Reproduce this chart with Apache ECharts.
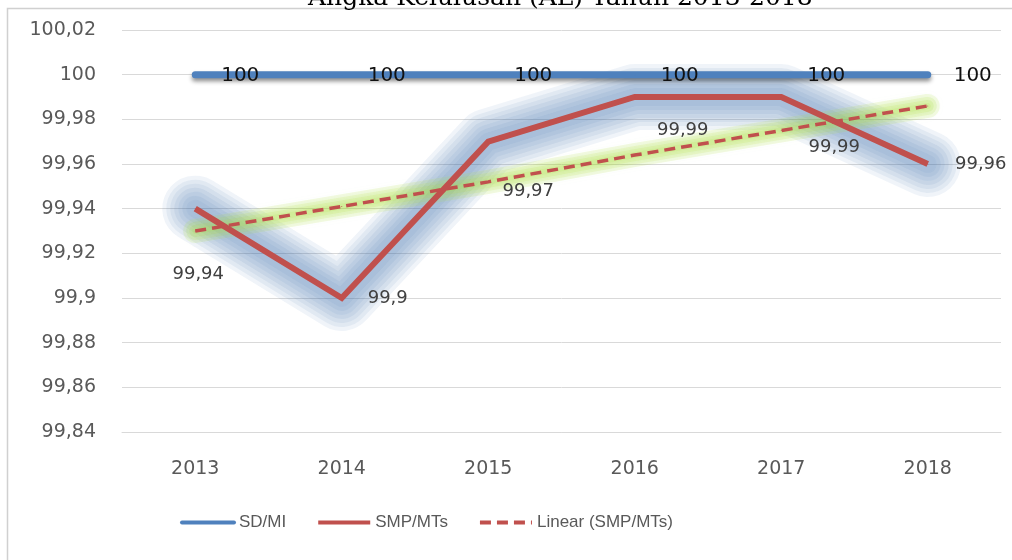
<!DOCTYPE html>
<html>
<head>
<meta charset="utf-8">
<script src="https://cdn.jsdelivr.net/npm/echarts@6/dist/echarts.min.js"></script>
<style>
  html, body { margin: 0; padding: 0; background: #fff; }
  #chart { width: 1012px; height: 560px; }
</style>
</head>
<body>
<div id="chart"></div>
<script>
const years = ['2013', '2014', '2015', '2016', '2017', '2018']
const sdMi = [100, 100, 100, 100, 100, 100]
const smpMts = [99.94, 99.9, 99.97, 99.99, 99.99, 99.96]
// trendline (straight dashed line)
const linearSmp = [99.93, 99.941, 99.952, 99.964, 99.975, 99.986]

// label placement for SMP/MTs values, as in the reference
const smpLabelOffsets = [[3, 66], [46, 0], [40, 50], [48, 33], [53, 50], [53, 0]]

const fmt = v => parseFloat(Number(v).toFixed(2)).toString().replace('.', ',')
const font = 'DejaVu Sans'

// soft glow bands drawn under a line (widest first)
const glow = (data, widths, rgb, alpha, z) => widths.map(w => ({
  name: 'glow',
  type: 'line',
  data: data,
  symbol: 'none',
  silent: true,
  z: z,
  lineStyle: {
    width: w, color: `rgba(${rgb},${alpha})`, cap: 'round', join: 'round',
    shadowBlur: 10, shadowColor: `rgba(${rgb},${alpha})`
  }
}))

const chart = echarts.init(document.getElementById('chart'))

chart.setOption({
  animation: false,
  title: {
    text: 'Angka Kelulusan (AL) Tahun 2013-2018',
    left: 303,
    top: -19,
    textStyle: { fontFamily: 'DejaVu Serif', fontSize: 25, fontWeight: 'normal', color: '#000' }
  },
  graphic: [{
    type: 'rect',
    shape: { x: 7.5, y: 8.5, width: 1020, height: 600 },
    style: { fill: 'none', stroke: '#d0d0d0', lineWidth: 1.5 },
    z: -10
  }],
  legend: {
    data: ['SD/MI', 'SMP/MTs', 'Linear (SMP/MTs)'],
    left: 175,
    top: 509,
    itemWidth: 52,
    itemHeight: 14,
    itemGap: 30,
    textStyle: { fontFamily: 'Liberation Sans', fontSize: 17, color: '#595959' },
    itemStyle: { opacity: 0 },
    lineStyle: { shadowBlur: 0, shadowOffsetY: 0, width: 4 }
  },
  grid: { left: 122, right: 11, top: 30, bottom: 128 },
  xAxis: {
    type: 'category',
    data: years,
    axisLine: { lineStyle: { color: '#d9d9d9' } },
    axisTick: { show: false },
    axisLabel: { margin: 28, fontFamily: font, fontSize: 19, color: '#595959' }
  },
  yAxis: {
    type: 'value',
    min: 99.84,
    max: 100.02,
    interval: 0.02,
    axisLine: { show: false },
    axisTick: { show: false },
    splitLine: { lineStyle: { color: '#d9d9d9', width: 1 } },
    axisLabel: { margin: 26, fontFamily: font, fontSize: 19, color: '#595959', formatter: fmt }
  },
  series: [
    ...glow(smpMts, [66, 58, 50, 42, 34, 26, 18], '79,129,189', 0.085, 1),
    ...glow(linearSmp, [24, 18, 12, 6], '170,220,60', 0.15, 2),
    {
      name: 'SD/MI',
      type: 'line',
      data: sdMi,
      symbol: 'circle',
      symbolSize: 1,
      z: 5,
      itemStyle: { color: '#4f81bd' },
      lineStyle: {
        width: 7, color: '#4f81bd', cap: 'round',
        shadowColor: 'rgba(0,0,0,0.45)', shadowBlur: 4, shadowOffsetY: 3
      },
      label: {
        show: true,
        position: 'inside',
        offset: [45, 1],
        formatter: p => fmt(p.value),
        fontFamily: font,
        fontSize: 20,
        color: '#111'
      }
    },
    {
      name: 'SMP/MTs',
      type: 'line',
      data: smpMts.map((v, i) => ({
        value: v,
        label: { offset: smpLabelOffsets[i] }
      })),
      symbol: 'circle',
      symbolSize: 1,
      z: 4,
      itemStyle: { color: '#c0504d' },
      lineStyle: { width: 6, color: '#c0504d', join: 'miter' },
      label: {
        show: true,
        position: 'inside',
        formatter: p => fmt(p.value),
        fontFamily: font,
        fontSize: 18,
        color: '#404040'
      }
    },
    {
      name: 'Linear (SMP/MTs)',
      type: 'line',
      data: linearSmp,
      symbol: 'circle',
      symbolSize: 1,
      z: 3,
      itemStyle: { color: '#c0504d' },
      lineStyle: { width: 3.5, color: '#c0504d', type: [11, 6] }
    }
  ]
})
</script>
</body>
</html>
